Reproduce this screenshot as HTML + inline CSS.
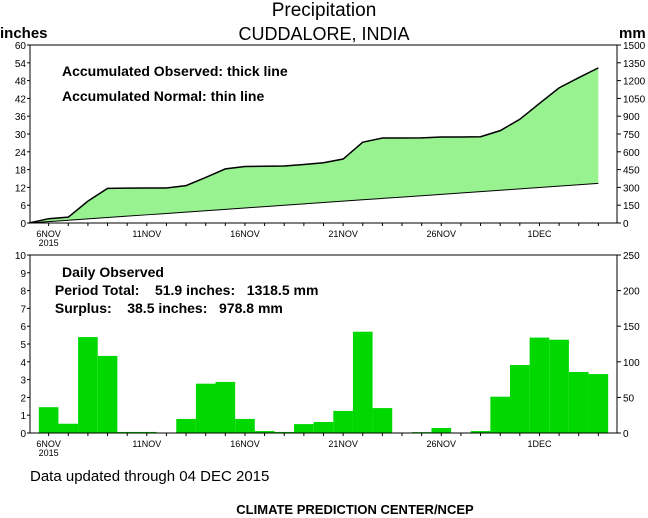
<!DOCTYPE html>
<html><head><meta charset="utf-8"><style>
body{margin:0;background:#fff;}
svg{display:block;font-family:"Liberation Sans",sans-serif;}
svg text{white-space:pre;}
</style></head><body>
<svg id="c" width="648" height="518" viewBox="0 0 648 518">
<text x="324" y="16" font-size="19" text-anchor="middle">Precipitation</text>
<text x="324" y="40" font-size="18" text-anchor="middle">CUDDALORE, INDIA</text>
<text x="0" y="38" font-size="15" font-weight="bold">inches</text>
<text x="619" y="38" font-size="15" font-weight="bold">mm</text>
<g id="topPanel"></g>
<g id="botPanel"></g>
<text x="62" y="76" font-size="14" font-weight="bold">Accumulated Observed: thick line</text>
<text x="62" y="101" font-size="14" font-weight="bold">Accumulated Normal: thin line</text>
<text x="62" y="277" font-size="14" font-weight="bold">Daily Observed</text>
<text x="51" y="295" font-size="14" font-weight="bold"> Period Total:    51.9 inches:   1318.5 mm</text>
<text x="51" y="313" font-size="14" font-weight="bold"> Surplus:    38.5 inches:   978.8 mm</text>
<text x="30" y="481" font-size="15">Data updated through 04 DEC 2015</text>
<text x="355" y="514" font-size="13" font-weight="bold" text-anchor="middle">CLIMATE PREDICTION CENTER/NCEP</text>
</svg>
<script>
const days=["6NOV","7NOV","8NOV","9NOV","10NOV","11NOV","12NOV","13NOV","14NOV","15NOV","16NOV","17NOV","18NOV","19NOV","20NOV","21NOV","22NOV","23NOV","24NOV","25NOV","26NOV","27NOV","28NOV","29NOV","30NOV","1DEC","2DEC","3DEC","4DEC"];
const dailyObs=[1.45,0.52,5.39,4.33,0.06,0.06,0,0.79,2.77,2.87,0.79,0.11,0.06,0.5,0.62,1.24,5.69,1.4,0,0.05,0.28,0,0.11,2.04,3.82,5.36,5.24,3.43,3.31];
const dailyNormal=[0.46,0.46,0.46,0.46,0.46,0.46,0.46,0.46,0.46,0.46,0.46,0.46,0.46,0.46,0.46,0.46,0.46,0.46,0.46,0.46,0.46,0.46,0.46,0.46,0.46,0.46,0.46,0.46,0.46];
const xTickLabels=["6NOV","11NOV","16NOV","21NOV","26NOV","1DEC"];
const topLeftTicks=[0,6,12,18,24,30,36,42,48,54,60];
const topRightTicks=[0,150,300,450,600,750,900,1050,1200,1350,1500];
const botLeftTicks=[0,1,2,3,4,5,6,7,8,9,10];
const botRightTicks=[0,50,100,150,200,250];

const NS="http://www.w3.org/2000/svg";
const L=30,R=617;
const x=i=>L+(i+0.95)*(R-L)/29.9;
const yT=v=>223-v*(223-45)/60;
const yB=v=>433-v*(433-255)/10;
function mk(p,t,a){const e=document.createElementNS(NS,t);for(const k in a)e.setAttribute(k,a[k]);p.appendChild(e);return e;}
const topG=document.getElementById('topPanel'),botG=document.getElementById('botPanel');

const cumO=[0],cumN=[0];
dailyObs.forEach((v,i)=>cumO.push(cumO[i]+v));
dailyNormal.forEach((v,i)=>cumN.push(cumN[i]+v));
const ptsO=cumO.map((v,i)=>x(i-1)+","+yT(v));
const ptsN=cumN.map((v,i)=>x(i-1)+","+yT(v));
const area=mk(topG,'polygon',{points:ptsO.concat(ptsN.slice().reverse()).join(' '),fill:'#98f290',stroke:'none'});


const lo=mk(topG,'polyline',{points:ptsO.join(' '),fill:'none',stroke:'#000','stroke-width':1.5});


const ln=mk(topG,'polyline',{points:ptsN.join(' '),fill:'none',stroke:'#000','stroke-width':1});



const bw=(R-L)/29.9;
dailyObs.forEach((v,i)=>{
  const b=mk(botG,'rect',{x:x(i)-bw/2,y:yB(v),width:bw,height:433-yB(v),fill:'#00d800'});
  
  
});

function axes(g,y0,y1,yf,lt,rt,rmax,lmax){
  mk(g,'rect',{x:L,y:y0,width:R-L,height:y1-y0,fill:'none',stroke:'#000','stroke-width':1});
  lt.forEach(v=>{const yy=yf(v);
    mk(g,'line',{x1:L-3,x2:L,y1:yy,y2:yy,stroke:'#000'});
    const t=mk(g,'text',{x:L-4,y:yy+4,'font-size':10,'text-anchor':'end'});t.textContent=v;
    
    
  });
  rt.forEach(v=>{const yy=yf(v*lmax/rmax);
    mk(g,'line',{x1:R,x2:R+4,y1:yy,y2:yy,stroke:'#000'});
    const t=mk(g,'text',{x:R+6,y:yy+4,'font-size':10});t.textContent=v;
    
    
  });
  days.forEach((d,i)=>{mk(g,'line',{x1:x(i),x2:x(i),y1:y1,y2:y1+3,stroke:'#000'});});
  xTickLabels.forEach(lb=>{const i=days.indexOf(lb);
    const t=mk(g,'text',{x:x(i),y:y1+14,'font-size':9,'text-anchor':'middle'});t.textContent=lb;
    
    
  });
  const yr=mk(g,'text',{x:x(0),y:y1+23,'font-size':9,'text-anchor':'middle'});yr.textContent="2015";
  
  
}
axes(topG,45,223,yT,topLeftTicks,topRightTicks,1500,60);
axes(botG,255,433,yB,botLeftTicks,botRightTicks,250,10);
</script>
</body></html>
